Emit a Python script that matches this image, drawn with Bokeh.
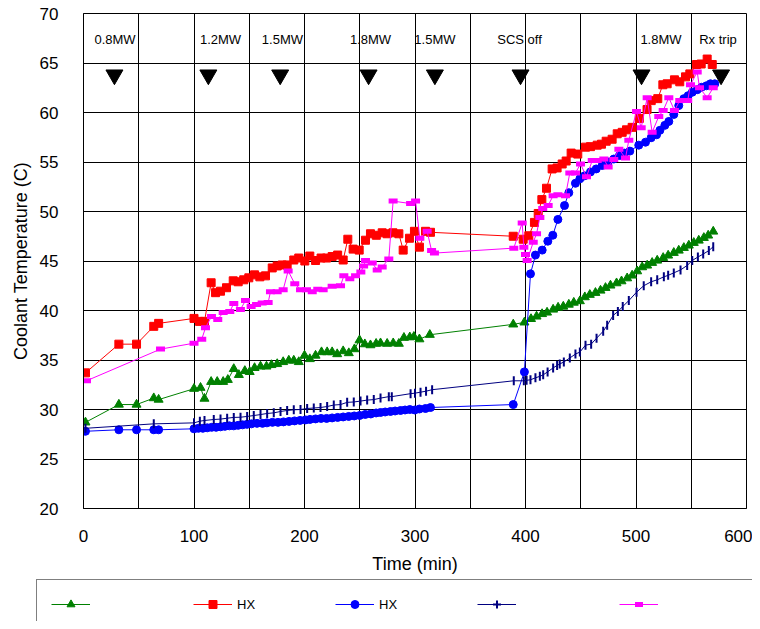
import math
from bokeh.plotting import figure
from bokeh.layouts import column
from bokeh.models import Range1d, SingleIntervalTicker, Legend, LegendItem, ColumnDataSource
from bokeh.core.properties import value
from bokeh.embed import file_html
from bokeh.resources import INLINE

FONT = "Liberation Sans"

# ---------------- data ----------------
green_x = [1.8, 32, 48, 63.6, 68, 100, 105.9, 109.5, 115.5, 121,
           126.4, 130.6, 136, 140.6, 146, 150.4, 154.8, 160.2, 165.6, 170.1,
           175.3, 180.7, 185.8, 190.3, 194.8, 200, 204.8, 210, 215.4, 220.5,
           225, 229.6, 235, 240.1, 245.2, 249.8, 254.6, 259.7, 264.8, 268.8,
           274.8, 280.3, 285.4, 290, 295.3, 299, 304, 313.4, 388.9, 399,
           405, 410, 415, 419.5, 425, 429.5, 434.2, 439.2, 443.7, 449.2,
           453.7, 458.2, 463.3, 467.9, 472.4, 476.9, 482.4, 486.9, 492, 496.5,
           501.1, 505.6, 510.1, 514.6, 519.2, 524.6, 529.1, 534.2, 538.7, 543.3,
           547.8, 552.3, 556.8, 561.4, 565.3, 569.9]
green_y = [28.7, 30.5, 30.5, 31.15, 31.0, 32.1, 32.2, 31.1, 32.8, 32.8,
           32.8, 33.0, 34.1, 33.5, 33.9, 33.8, 34.2, 34.35, 34.35, 34.5,
           34.6, 34.8, 34.95, 34.95, 34.8, 35.45, 35.1, 35.45, 35.8, 35.8,
           35.8, 35.6, 35.9, 35.7, 36.1, 37.0, 36.6, 36.5, 36.65, 36.7,
           36.65, 36.7, 36.65, 37.25, 37.3, 37.35, 37.1, 37.55, 38.6, 38.8,
           39.15, 39.4, 39.65, 39.8, 40.1, 40.3, 40.4, 40.6, 40.8, 40.95,
           41.35, 41.59, 41.79, 42.02, 42.29, 42.53, 42.76, 42.96, 43.26, 43.54,
           43.97, 44.38, 44.55, 44.82, 45.05, 45.32, 45.56, 45.83, 46.06, 46.33,
           46.57, 46.84, 47.07, 47.34, 47.58, 47.98]

red_x = [1.8, 32, 48, 63.6, 68, 100, 105, 109.5, 115.5, 119.5,
         124, 129.4, 135.5, 140, 145, 149.6, 154.8, 159.6, 164.7, 170.8,
         175.3, 179.8, 184.3, 190.3, 194.8, 200.3, 204.8, 210, 215, 220,
         225, 230, 235, 239.2, 244, 249.5, 255.2, 259.7, 265, 270.3,
         274.8, 280, 285.4, 289.3, 295, 299.5, 304, 309.5, 314, 388.9,
         397.9, 403, 408.1, 411.5, 414.8, 419, 424.1, 428.6, 433.2, 436.8,
         441.3, 447.3, 454.3, 458.8, 464.9, 468.8, 473, 478.4, 483, 487.5,
         491.4, 496.5, 503, 510, 513.8, 519.7, 524.3, 528.2, 534.8, 539.6,
         544.8, 548.7, 554.8, 559, 564.4, 569]
red_y = [33.7, 36.6, 36.6, 38.4, 38.7, 39.2, 38.9, 38.9, 42.8, 41.8,
         41.95, 42.3, 43.0, 42.9, 43.1, 43.3, 43.6, 43.4, 43.5, 44.3,
         44.5, 44.6, 44.6, 45.1, 45.3, 45.0, 45.5, 45.05, 45.3, 45.3,
         45.45, 45.6, 45.1, 47.2, 46.2, 46.1, 47.1, 47.75, 47.6, 47.85,
         47.75, 47.85, 47.75, 46.1, 47.3, 48.0, 46.4, 48.0, 47.9, 47.5,
         47.2, 47.55, 48.9, 49.8, 51.2, 52.35, 54.3, 54.4, 54.8, 55.1,
         55.9, 55.8, 56.5, 56.55, 56.7, 56.8, 57.1, 57.3, 57.85, 58.0,
         58.25, 58.5, 59.4, 60.3, 61.2, 61.4, 62.8, 62.9, 63.3, 63.1,
         63.6, 63.9, 64.85, 64.9, 65.4, 64.85]

blue_x = [1.8, 32, 48, 63.6, 68, 100, 104, 108, 112, 116,
          120, 124, 128, 132, 136, 140, 144, 148, 152, 157,
          162, 166, 171, 176, 181, 186, 191, 196, 201, 205,
          210, 215, 220, 225, 230, 235, 240, 245, 250, 255,
          260, 264.8, 268.8, 273, 277.8, 282, 286.9, 291, 295.3, 299.8,
          304, 309.5, 314, 388.9, 399, 404.5, 409, 415.1, 420.2, 424.7,
          429.3, 435.3, 439.2, 445.2, 449.2, 453.4, 458.8, 464, 469.4, 474.8,
          479.9, 485, 489.6, 494.4, 502.5, 508.6, 513.7, 518.6, 521.6, 526.1,
          529.7, 534.2, 538.7, 543.3, 547.2, 550.9, 555.4, 559.3, 563.8, 567.4,
          571.3]
blue_y = [27.8, 27.95, 27.95, 27.95, 27.95, 28.05, 28.1, 28.1, 28.15, 28.2,
          28.2, 28.25, 28.3, 28.35, 28.35, 28.4, 28.45, 28.5, 28.55, 28.6,
          28.6, 28.65, 28.7, 28.7, 28.75, 28.8, 28.85, 28.9, 28.95, 29.0,
          29.05, 29.1, 29.1, 29.15, 29.2, 29.25, 29.3, 29.35, 29.4, 29.5,
          29.55, 29.65, 29.7, 29.75, 29.8, 29.85, 29.9, 29.95, 30.0, 29.95,
          30.05, 30.1, 30.2, 30.5, 33.8, 43.7, 45.6, 46.1, 47.0, 47.6,
          49.2, 50.6, 51.9, 52.85, 53.3, 53.6, 54.0, 54.3, 54.65, 55.0,
          55.3, 55.65, 55.9, 56.1, 56.7, 57.0, 57.45, 57.75, 58.2, 58.7,
          59.1, 59.8, 60.7, 61.4, 61.7, 62.05, 62.3, 62.55, 62.7, 62.9,
          62.9]

navy_x = [1.8, 63.6, 100, 105.3, 109.5, 117.9, 124, 130, 136, 142.1,
          148.1, 154.1, 160.2, 166.2, 172.2, 178.3, 184.3, 190.3, 196.4, 202.4,
          208.4, 214.5, 220.5, 226.5, 232.6, 238.6, 244.6, 250.7, 256.7, 262.7,
          268.8, 276.3, 279, 296, 300, 305, 310, 315.5, 389.4, 398.5,
          401, 404.5, 409, 413, 416, 420, 425, 428.6, 431, 434.7,
          440.1, 445.2, 449.2, 454.3, 459.4, 464.3, 470.3, 473.9, 479.3, 483.6,
          488, 493.5, 500.5, 507, 513.7, 519.2, 525.2, 529.1, 534.2, 540.3,
          546.3, 550.9, 556, 560.8, 565.9, 569.9]
navy_y = [28.1, 28.55, 28.65, 28.82, 28.89, 28.99, 29.03, 29.12, 29.2, 29.22,
          29.3, 29.39, 29.49, 29.6, 29.66, 29.8, 29.9, 29.97, 30.0, 30.1,
          30.15, 30.2, 30.3, 30.45, 30.5, 30.72, 30.76, 30.85, 30.95, 31.0,
          31.15, 31.3, 31.3, 31.6, 31.65, 31.75, 31.85, 32.0, 32.9, 32.9,
          32.95, 33.0, 33.2, 33.35, 33.5, 33.8, 34.2, 34.45, 34.6, 34.8,
          35.2, 35.6, 35.8, 36.5, 36.6, 37.2, 37.9, 38.5, 39.5, 39.9,
          40.4, 41.0, 41.85, 42.5, 42.9, 43.1, 43.4, 43.55, 43.8, 44.1,
          44.55, 45.05, 45.4, 45.7, 46.05, 46.45]

pink_x = [2.7, 69.7, 100, 107, 110.4, 115.8, 121.5, 126.4, 132.4, 136,
          142, 146.6, 151.7, 156.6, 161.7, 167.1, 169.2, 175.3, 180.7, 185.2,
          191.2, 196.4, 201.8, 207, 212, 216.9, 225, 232.6, 235.6, 241,
          246.2, 251, 253.5, 255.2, 261.3, 265.8, 270.3, 276.3, 280.2, 296,
          300.5, 304.4, 311, 315, 317.6, 389.4, 397, 398.5, 400, 401.5,
          407, 410, 413, 415.6, 420.5, 425, 429.3, 436.2, 440.1, 445.2,
          449.8, 455.2, 460.4, 464.9, 470.9, 474.8, 479.9, 484.5, 490.5, 493.5,
          500.5, 504.7, 510.1, 514.6, 520.6, 524.6, 529.7, 534.8, 539.6, 546.8,
          549.3, 555.4, 557.5, 564.4, 569.9]
pink_y = [32.9, 36.1, 36.7, 37.1, 38.25, 39.4, 39.1, 39.8, 39.9, 40.7,
          40.1, 41.0, 40.4, 40.6, 40.75, 40.8, 41.9, 41.9, 42.1, 44.0,
          42.7, 42.1, 42.1, 41.9, 42.15, 42.1, 42.45, 42.5, 43.5, 43.2,
          43.5, 43.9, 44.5, 45.05, 44.8, 44.1, 44.4, 45.2, 51.05, 50.8,
          51.05, 47.3, 48.0, 46.05, 45.8, 46.3, 48.85, 46.4, 45.65, 45.05,
          46.9, 47.75, 49.4, 50.3, 50.6, 51.6, 51.7, 51.6, 53.9, 53.9,
          54.8, 53.5, 55.15, 55.15, 55.3, 54.5, 55.25, 56.3, 55.4, 57.2,
          60.1, 58.45, 61.5, 58.0, 59.6, 60.2, 61.5, 60.2, 61.2, 61.2,
          62.8, 64.1, 62.5, 61.5, 62.5]

series_labels = ["", "HX", "HX", "", ""]

event_labels = ["0.8MW", "1.2MW", "1.5MW", "1.8MW", "1.5MW", "SCS off", "1.8MW", "Rx trip"]
event_label_x = [28.5, 124, 180, 259.7, 318, 394.6, 522.6, 574.2]
event_label_y = [67.4] * len(event_labels)
event_marker_x = [28, 113, 178, 258, 318, 395.5, 505, 577]
event_marker_y = [63.8] * len(event_marker_x)

x_ticks = 100
grid_step_x = 50
y_step = 5

# ---------------- main figure ----------------
p = figure(width=752, height=578, x_range=Range1d(0, 600), y_range=Range1d(20, 70),
           output_backend="svg", toolbar_location=None,
           min_border_left=83, min_border_right=6, min_border_top=13, min_border_bottom=70,
           background_fill_color="white", border_fill_color="white")
p.frame_align = False

p.xaxis.ticker = SingleIntervalTicker(interval=x_ticks)
p.yaxis.ticker = SingleIntervalTicker(interval=y_step)
p.xgrid.ticker = SingleIntervalTicker(interval=grid_step_x)
p.ygrid.ticker = SingleIntervalTicker(interval=y_step)
p.grid.grid_line_color = "black"
p.grid.grid_line_width = 1
p.grid.grid_line_alpha = 1.0
p.outline_line_color = "black"
p.outline_line_width = 1

for ax in (p.xaxis[0], p.yaxis[0]):
    ax.major_tick_in = 0
    ax.major_tick_out = 0
    ax.minor_tick_line_color = None
    ax.axis_line_color = "black"
    ax.major_label_text_font = FONT
    ax.major_label_text_font_size = "17px"
    ax.major_label_text_color = "black"
    ax.axis_label_text_font = FONT
    ax.axis_label_text_font_size = "18px"
    ax.axis_label_text_font_style = "normal"
    ax.axis_label_text_color = "black"

p.xaxis.axis_label = "Time (min)"
p.yaxis.axis_label = "Coolant Temperature (C)"
p.xaxis.major_label_standoff = 17
p.yaxis.major_label_standoff = 21
p.xaxis.axis_label_standoff = 9
p.yaxis.axis_label_standoff = 6

styles = [
    dict(color="#008000", marker="triangle", size=9),
    dict(color="#FF0000", marker="square", size=8),
    dict(color="#0000FF", marker="circle", size=8),
    dict(color="#000080", marker="dash", size=9, angle=math.pi / 2, line_width=2),
    dict(color="#FF00FF", marker="dash", size=9, line_width=5),
]
# legend keys: the navy key is a vertical tick over its line (drawn as a cross)
legend_styles = styles[:3] + [
    dict(color="#000080", marker="cross", size=9, line_width=2),
    styles[4],
]
series = [(green_x, green_y), (red_x, red_y), (blue_x, blue_y), (navy_x, navy_y), (pink_x, pink_y)]


def draw(fig, xs, ys, st):
    st = dict(st)
    color = st.pop("color")
    src = ColumnDataSource(dict(x=xs, y=ys))
    ln = fig.line("x", "y", source=src, line_color=color, line_width=1)
    mk = fig.scatter("x", "y", source=src, fill_color=color, line_color=color, **st)
    return ln, mk


for (xs, ys), st in zip(series, styles):
    draw(p, xs, ys, st)

p.text(x=event_label_x, y=event_label_y, text=event_labels,
       text_font=value(FONT), text_font_size="13px", text_color="black",
       text_align="center", text_baseline="middle")
p.scatter(x=event_marker_x, y=event_marker_y, marker="inverted_triangle", size=17,
          fill_color="black", line_color="black")

# ---------------- legend strip (same styles, legend keys only) ----------------
leg = figure(width=752, height=43, x_range=Range1d(0, 1), y_range=Range1d(0, 1),
             output_backend="svg", toolbar_location=None, min_border=0,
             x_axis_type=None, y_axis_type=None, outline_line_color=None,
             background_fill_color="white", border_fill_color="white")
leg.frame_align = False
leg.grid.visible = False

items = []
for lab, st in zip(series_labels, legend_styles):
    ln, mk = draw(leg, [float("nan")], [float("nan")], st)
    items.append(LegendItem(label=value(lab), renderers=[ln, mk]))

legend = Legend(items=items, orientation="horizontal", location=(36, -8),
                glyph_width=39, glyph_height=20, label_standoff=5, label_width=88,
                spacing=10, padding=14, margin=0,
                border_line_color="black", border_line_width=1,
                background_fill_color="white", background_fill_alpha=1.0,
                label_text_font=FONT, label_text_font_size="13px", label_text_color="black")
leg.add_layout(legend, "center")

layout = column(p, leg, spacing=0)
open("out.html", "w").write(file_html(layout, INLINE))
